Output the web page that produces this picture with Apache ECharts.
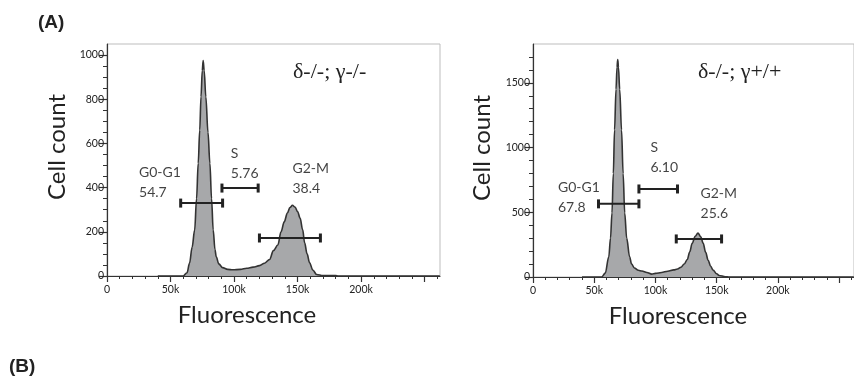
<!DOCTYPE html>
<html>
<head>
<meta charset="utf-8">
<script src="https://cdn.jsdelivr.net/npm/echarts@6/dist/echarts.min.js"></script>
<style>
  html, body { margin: 0; padding: 0; background: #fff; }
  #chart { width: 854px; height: 378px; }
</style>
</head>
<body>
<div id="chart"></div>
<script>
// histogram outlines, fluorescence in k units
const leftX = [40, 60, 63, 65, 67, 69, 70.5, 71.8, 73, 74, 75, 75.7, 76.5, 77.8, 79.5, 81, 82.3, 83.6, 85, 86, 88, 91, 95, 99, 105, 110, 115, 120, 124, 128, 131, 134.5, 137, 139.5, 142, 144, 146, 148, 150, 152, 154, 155.6, 157.5, 159.5, 162, 165, 170, 180, 182, 262];
const leftCount = [0, 0, 15, 59, 130, 208, 350, 510, 660, 811, 930, 975, 930, 811, 650, 510, 350, 208, 120, 87, 55, 38, 30, 28, 30, 35, 40, 47, 58, 75, 115, 140, 200, 245, 285, 310, 320, 312, 292, 262, 210, 150, 100, 60, 27, 7, 2, 2, 0, 0];

const rightX = [40, 56, 59, 61.9, 63.3, 64.5, 65.6, 66.6, 67.8, 68.6, 69.2, 69.8, 70.8, 72.3, 73.6, 74.9, 76.5, 78.9, 80.5, 82.8, 86, 89, 93, 97, 100, 105, 110, 115, 118, 120.8, 123.5, 126, 128, 130, 132.5, 134.7, 137, 139, 141, 143, 145, 147, 150, 152, 157, 160, 262];
const rightCount = [0, 0, 30, 157, 300, 495, 800, 1137, 1450, 1620, 1680, 1620, 1450, 1137, 800, 495, 300, 157, 100, 70, 52, 46, 35, 22, 28, 35, 45, 55, 62, 75, 100, 135, 195, 260, 315, 340, 310, 260, 190, 131, 85, 54, 25, 12, 2, 0, 0];

// gates: start, end (k), height (count)
const gateNames = ['G0-G1', 'S', 'G2-M'];
const leftGateStart = [58, 90.5, 120];
const leftGateEnd = [91, 119, 168];
const leftGateY = [330, 398, 172];
const leftPct = ['54.7', '5.76', '38.4'];
const leftLabelX = [25.2, 97.5, 146];
const leftLabelY = [421, 511, 443];

const rightGateStart = [53.5, 86.5, 117];
const rightGateEnd = [86.5, 118, 154];
const rightGateY = [565, 680, 294];
const rightPct = ['67.8', '6.10', '25.6'];
const rightLabelX = [20.4, 95.9, 136.8];
const rightLabelY = [611, 920, 568];

const xMajor = [0, 50, 100, 150, 200, 250];
const xLabeled = [0, 50, 100, 150, 200];
const leftYMajor = [0, 200, 400, 600, 800, 1000];
const rightYMajor = [0, 500, 1000, 1500];

const X_MAX = 262144;
const FONT = 'Lato';

function minorsBetween(step, max, majors) {
  const out = [];
  for (let v = 0; v <= max; v += step) {
    if (majors.indexOf(v) < 0) out.push(v);
  }
  return out;
}
const xMinor = minorsBetween(10, 260, xMajor).map(v => v * 1000);
const leftYMinor = minorsBetween(50, 1000, leftYMajor);
const rightYMinor = minorsBetween(100, 1700, rightYMajor);

const grids = [
  { left: 107, top: 44, width: 333, height: 232, show: true, borderColor: '#bdbdbd', borderWidth: 1 },
  { left: 533, top: 44, width: 333, height: 233, show: true, borderColor: '#bdbdbd', borderWidth: 1 }
];

function xAxes(gi) {
  return [
    {
      type: 'value', gridIndex: gi, min: 0, max: X_MAX,
      axisLine: { show: true, lineStyle: { color: '#333', width: 1.2 } },
      axisTick: { show: true, length: 6, customValues: xMajor.map(v => v * 1000), lineStyle: { color: '#333', width: 1.2 } },
      axisLabel: {
        customValues: xLabeled.map(v => v * 1000), margin: 8,
        fontFamily: FONT, fontSize: 10.5, color: '#222',
        formatter: v => v === 0 ? '0' : (v / 1000) + 'k'
      },
      splitLine: { show: false }
    },
    {
      type: 'value', gridIndex: gi, min: 0, max: X_MAX, position: 'bottom',
      axisLine: { show: false },
      axisTick: { show: true, length: 3, customValues: xMinor, lineStyle: { color: '#333' } },
      axisLabel: { show: false },
      splitLine: { show: false }
    }
  ];
}

function yAxes(gi, max, majors, minors) {
  return [
    {
      type: 'value', gridIndex: gi, min: 0, max: max,
      axisLine: { show: true, lineStyle: { color: '#333', width: 1.2 } },
      axisTick: { show: true, length: 8, customValues: majors, lineStyle: { color: '#333', width: 1.2 } },
      axisLabel: {
        customValues: majors, margin: 3, fontFamily: FONT, fontSize: 10.5, color: '#222',
        formatter: v => String(v)
      },
      splitLine: { show: false }
    },
    {
      type: 'value', gridIndex: gi, min: 0, max: max, position: 'left',
      axisLine: { show: false },
      axisTick: { show: true, length: 4, customValues: minors, lineStyle: { color: '#333' } },
      axisLabel: { show: false },
      splitLine: { show: false }
    }
  ];
}

function histSeries(axisIdx, xs, counts) {
  return {
    type: 'line', xAxisIndex: axisIdx, yAxisIndex: axisIdx,
    data: xs.map((x, i) => [x * 1000, counts[i]]),
    showSymbol: false, smooth: 0.35, smoothMonotone: 'x',
    lineStyle: { color: '#333', width: 1.6 },
    areaStyle: { color: '#a7a8aa', opacity: 1 },
    z: 2, silent: true
  };
}

function gateSeries(axisIdx, starts, ends, ys) {
  return {
    type: 'custom', xAxisIndex: axisIdx, yAxisIndex: axisIdx, z: 5, silent: true,
    data: starts.map((s, i) => [s * 1000, ends[i] * 1000, ys[i]]),
    encode: { x: [0, 1], y: 2 },
    renderItem: (params, api) => {
      const p0 = api.coord([api.value(0), api.value(2)]);
      const p1 = api.coord([api.value(1), api.value(2)]);
      const style = { fill: '#222' };
      return {
        type: 'group',
        children: [
          { type: 'line', shape: { x1: p0[0], y1: p0[1], x2: p1[0], y2: p1[1] }, style: { stroke: '#222', lineWidth: 2 } },
          { type: 'rect', shape: { x: p0[0] - 1.5, y: p0[1] - 4.5, width: 3, height: 9 }, style: style },
          { type: 'rect', shape: { x: p1[0] - 1.5, y: p1[1] - 4.5, width: 3, height: 9 }, style: style }
        ]
      };
    }
  };
}

function labelSeries(axisIdx, lx, ly, pct) {
  return {
    type: 'scatter', xAxisIndex: axisIdx, yAxisIndex: axisIdx, symbolSize: 0, z: 6, silent: true,
    data: lx.map((x, i) => [x * 1000, ly[i], gateNames[i] + '\n' + pct[i]]),
    label: {
      show: true, position: [0, 0], align: 'left', verticalAlign: 'middle',
      formatter: p => p.data[2],
      fontFamily: FONT, fontSize: 14, lineHeight: 20, color: '#111'
    }
  };
}

const chart = echarts.init(document.getElementById('chart'), null, { renderer: 'canvas' });

chart.setOption({
  animation: false,
  backgroundColor: '#fff',
  grid: grids,
  xAxis: [...xAxes(0), ...xAxes(1)],
  yAxis: [...yAxes(0, 1050, leftYMajor, leftYMinor), ...yAxes(1, 1800, rightYMajor, rightYMinor)],
  series: [
    histSeries(0, leftX, leftCount),
    histSeries(2, rightX, rightCount),
    gateSeries(0, leftGateStart, leftGateEnd, leftGateY),
    gateSeries(2, rightGateStart, rightGateEnd, rightGateY),
    labelSeries(0, leftLabelX, leftLabelY, leftPct),
    labelSeries(2, rightLabelX, rightLabelY, rightPct)
  ],
  graphic: [
    { type: 'text', x: 38, y: 23, style: { text: '(A)', font: 'bold 19px "Liberation Sans"', fill: '#222', textVerticalAlign: 'middle' } },
    { type: 'text', x: 9, y: 367, style: { text: '(B)', font: 'bold 19px "Liberation Sans"', fill: '#222', textVerticalAlign: 'middle' } },
    { type: 'text', x: 293, y: 72, style: { text: 'δ-/-; γ-/-', font: '22px "Liberation Serif"', fill: '#222', textVerticalAlign: 'middle' } },
    { type: 'text', x: 698, y: 72, style: { text: 'δ-/-; γ+/+', font: '22px "Liberation Serif"', fill: '#222', textVerticalAlign: 'middle' } },
    { type: 'text', x: 57, y: 147, rotation: Math.PI / 2, style: { text: 'Cell count', font: '24px Lato', fill: '#222', textAlign: 'center', textVerticalAlign: 'middle' } },
    { type: 'text', x: 482, y: 148, rotation: Math.PI / 2, style: { text: 'Cell count', font: '24px Lato', fill: '#222', textAlign: 'center', textVerticalAlign: 'middle' } },
    { type: 'text', x: 247, y: 315, style: { text: 'Fluorescence', font: '24px Lato', fill: '#222', textAlign: 'center', textVerticalAlign: 'middle' } },
    { type: 'text', x: 678, y: 316, style: { text: 'Fluorescence', font: '24px Lato', fill: '#222', textAlign: 'center', textVerticalAlign: 'middle' } }
  ]
});
</script>
</body>
</html>
